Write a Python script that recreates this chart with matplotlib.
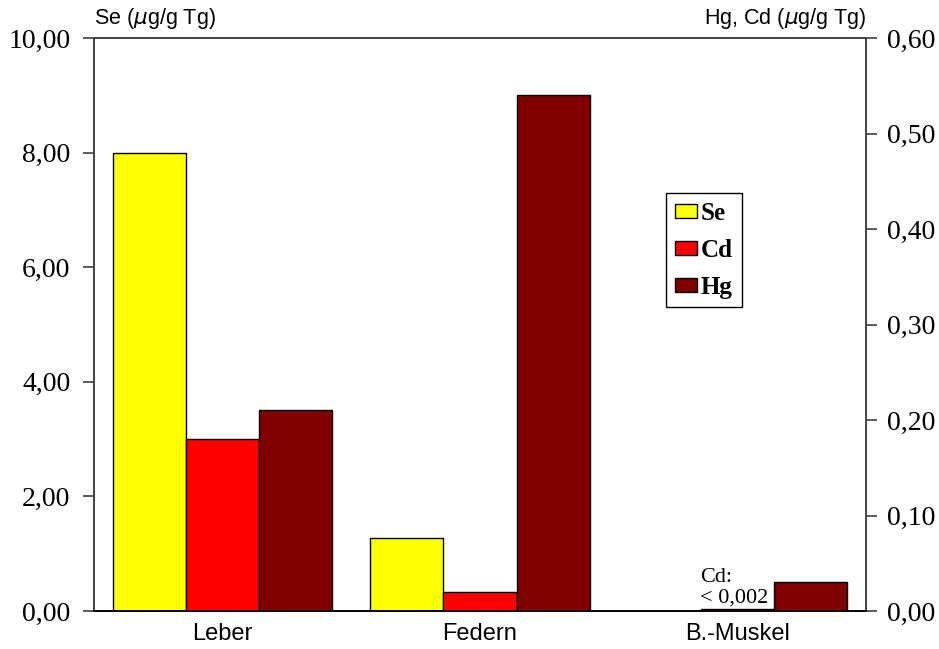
import matplotlib
matplotlib.use('Agg')
import matplotlib.pyplot as plt
import numpy as np
from matplotlib.patches import Patch
from matplotlib.ticker import FuncFormatter

categories = ['Leber', 'Federn', 'B.-Muskel']
se = [8.0, 1.28, 0.0]
cd = [0.18, 0.02, 0.002]
hg = [0.21, 0.54, 0.03]
left_ticks = [0, 2, 4, 6, 8, 10]
right_ticks = [0, 0.1, 0.2, 0.3, 0.4, 0.5, 0.6]

col_se = '#FFFF00'
col_cd = '#FF0000'
col_hg = '#800000'


def comma(v, pos):
    return ('%.2f' % v).replace('.', ',')


fig = plt.figure(figsize=(9.39, 6.49), dpi=100)
ax = fig.add_axes([94/939, 38/649, 772/939, 573/649])
ax2 = ax.twinx()

index = np.arange(len(categories))
w = 0.284
ax.bar(index - w, se, w, color=col_se, edgecolor='black', linewidth=1.0)
ax2.bar(index, cd, w, color=col_cd, edgecolor='black', linewidth=1.0)
ax2.bar(index + w, hg, w, color=col_hg, edgecolor='black', linewidth=1.0)

ax.set_xlim(-0.5, 2.5)
ax.set_ylim(0, 10)
ax2.set_ylim(0, 0.6)
ax.set_yticks(left_ticks)
ax2.set_yticks(right_ticks)
ax.yaxis.set_major_formatter(FuncFormatter(comma))
ax2.yaxis.set_major_formatter(FuncFormatter(comma))
ax.set_xticks(index)
ax.set_xticklabels(categories, family='Liberation Sans', fontsize=17)
ax.tick_params(axis='x', length=0, pad=9)
ax.tick_params(axis='y', direction='out', length=8, width=1.2, color='#404040', pad=9)
ax2.tick_params(axis='y', direction='out', length=8, width=1.2, color='#404040', pad=7)
for lab in ax.get_yticklabels() + ax2.get_yticklabels():
    lab.set_family('Liberation Serif')
    lab.set_fontsize(20)

for a in (ax, ax2):
    for s in a.spines.values():
        s.set_color('#404040')
        s.set_linewidth(1.2)
    a.spines['bottom'].set_color('black')

ax.text(0.0, 1.012, 'Se ($\\mu$g/g Tg)', transform=ax.transAxes, ha='left', va='bottom',
        family='Liberation Sans', fontsize=15.5)
ax.text(1.0, 1.012, 'Hg, Cd ($\\mu$g/g Tg)', transform=ax.transAxes, ha='right', va='bottom',
        family='Liberation Sans', fontsize=15.5)

ax2.text(index[2] - w / 2 - 0.003, 0.004, 'Cd:\n< 0,002', ha='left', va='bottom',
         family='Liberation Serif', fontsize=16, linespacing=1.1)

handles = [Patch(facecolor=col_se, edgecolor='black', label='Se'),
           Patch(facecolor=col_cd, edgecolor='black', label='Cd'),
           Patch(facecolor=col_hg, edgecolor='black', label='Hg')]
leg = ax2.legend(handles=handles, loc='upper left', bbox_to_anchor=(0.741, 0.729),
                 fancybox=False, framealpha=1, edgecolor='black',
                 prop={'family': 'Liberation Serif', 'weight': 'bold', 'size': 18},
                 handlelength=0.9, handleheight=0.5, handletextpad=0.15,
                 labelspacing=0.55, borderpad=0.35, borderaxespad=0)
leg.get_frame().set_linewidth(1.0)

fig.savefig('out.png', dpi=100)
